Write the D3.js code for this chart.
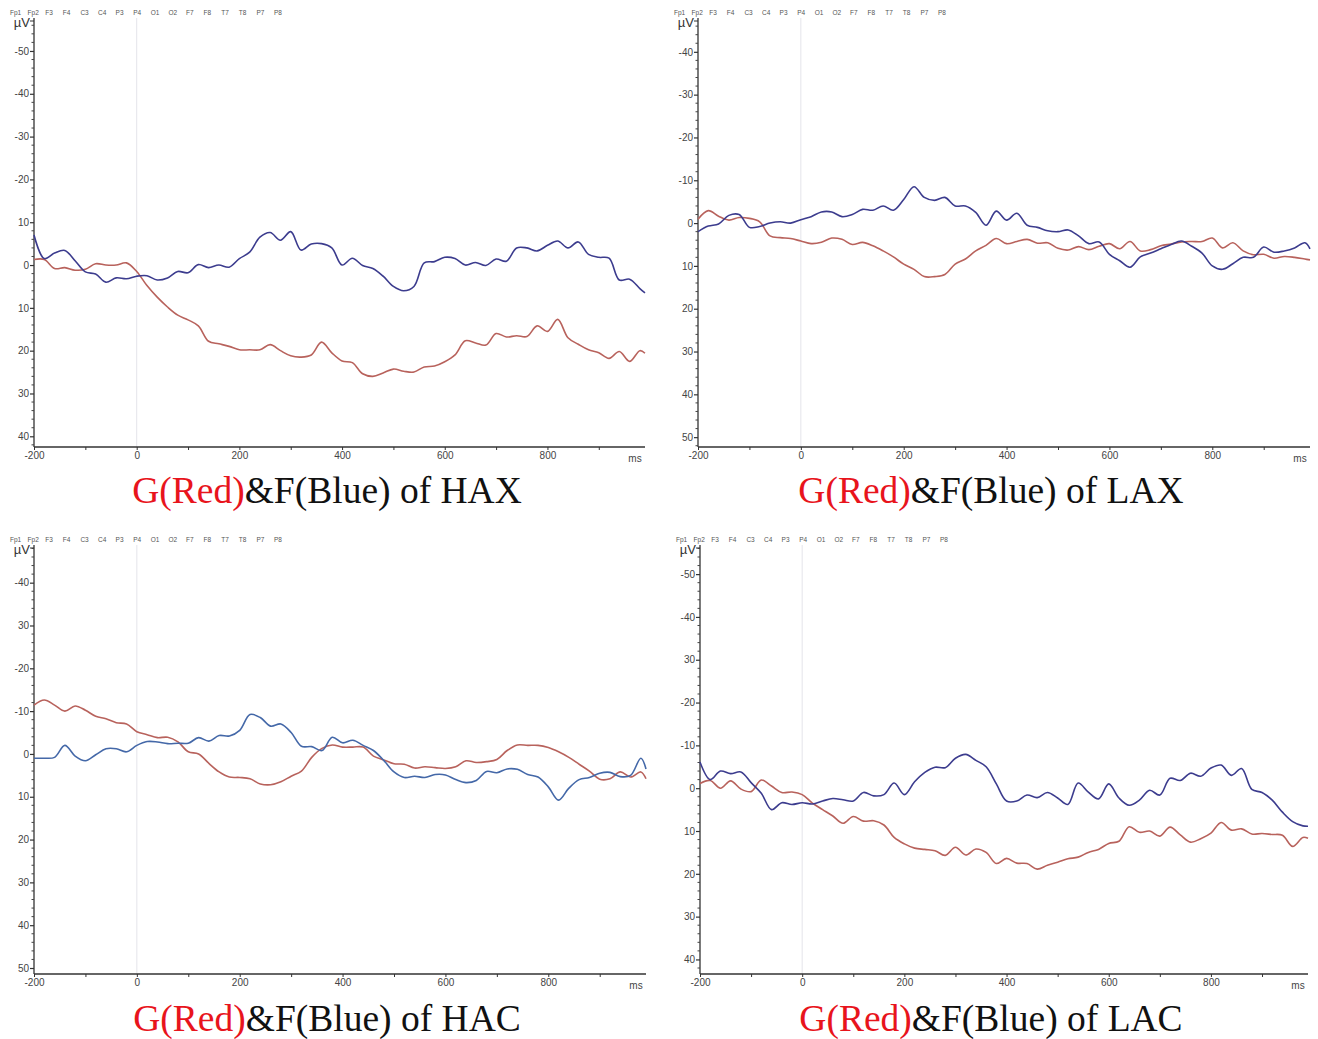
<!DOCTYPE html>
<html>
<head>
<meta charset="utf-8">
<script src="https://cdn.jsdelivr.net/npm/d3@7"></script>
<style>
  body { margin: 0; background: #fff; }
  svg { display: block; }
</style>
</head>
<body>
<div id="chart"></div>
<script>
// sample times (ms)
const times = [-200, -180, -160, -140, -120, -100, -80, -60, -40, -20, 0, 20, 40, 60, 80, 100, 120, 140, 160, 180,
  200, 220, 240, 260, 280, 300, 320, 340, 360, 380, 400, 420, 440, 460, 480, 500, 520, 540, 560, 580,
  600, 620, 640, 660, 680, 700, 720, 740, 760, 780, 800, 820, 840, 860, 880, 900, 920, 940, 960, 980, 990];

const channels = ["Fp1", "Fp2", "F3", "F4", "C3", "C4", "P3", "P4", "O1", "O2", "F7", "F8", "T7", "T8", "P7", "P8"];
const xTickLabels = [-200, 0, 200, 400, 600, 800];

// HAX
const haxRed = [-1.3, -1.3, 0.8, 0.6, 1.2, 1.0, -0.3, 0, 0, -0.5, 1.5, 4.8, 7.5, 9.8, 11.7, 12.8, 14.2, 17.8, 18.4, 19.0,
  19.8, 19.8, 19.8, 18.6, 20.0, 21.2, 21.5, 21.0, 18.0, 20.5, 22.4, 22.8, 25.4, 26.0, 25.2, 24.3, 24.8, 25.0, 23.8, 23.6,
  22.6, 21.0, 17.7, 18.2, 18.7, 16.0, 16.8, 16.5, 16.7, 14.2, 15.5, 12.7, 17.0, 18.5, 19.8, 20.5, 21.8, 20.2, 22.5, 20.0, 20.6];
const haxBlue = [-7.0, -1.5, -2.8, -3.4, -1.0, 1.6, 2.1, 4.0, 3.0, 3.2, 2.6, 2.5, 3.5, 3.0, 1.5, 1.8, -0.1, 0.6, 0, 0.5,
  -1.5, -3.0, -6.5, -7.6, -5.8, -7.8, -3.5, -4.9, -5.0, -4.0, 0, -1.6, 0.1, 0.8, 2.6, 5.0, 6.0, 5.0, -0.5, -0.8,
  -1.8, -1.5, 0, -0.6, 0.1, -1.4, -0.9, -4.0, -4.0, -3.3, -4.6, -5.6, -4.0, -5.4, -2.5, -1.8, -1.6, 3.5, 3.3, 5.5, 6.5];

// LAX
const laxRed = [-0.9, -2.9, -1.6, -0.7, -1.3, -1.1, -0.3, 3.0, 3.4, 3.6, 4.2, 4.8, 4.5, 3.5, 3.8, 5.0, 4.5, 5.3, 6.5, 7.9,
  9.6, 10.8, 12.5, 12.5, 12.0, 9.6, 8.4, 6.5, 5.2, 3.6, 4.8, 4.3, 3.8, 4.7, 4.6, 5.9, 6.3, 5.5, 6.2, 5.4,
  4.8, 6.0, 4.3, 6.5, 6.2, 5.3, 4.9, 4.4, 4.3, 4.3, 3.5, 5.8, 4.6, 6.5, 7.4, 7.3, 8.2, 7.8, 8.0, 8.4, 8.6];
const laxBlue = [2.0, 0.7, 0.2, -1.8, -2.0, 1.0, 0.8, 0, -0.3, 0, -0.8, -1.5, -2.6, -2.6, -1.5, -2.0, -3.2, -3.0, -4.0, -3.0,
  -5.5, -8.5, -6.0, -5.3, -6.0, -4.0, -4.0, -2.5, 0.5, -2.8, -0.7, -2.3, 0.5, 1.0, 1.8, 2.0, 1.6, 3.0, 4.8, 4.4,
  7.3, 8.8, 10.3, 7.9, 7.0, 6.0, 5.0, 4.2, 5.4, 7.0, 10.0, 10.8, 9.5, 8.0, 8.0, 5.6, 6.8, 6.5, 5.8, 4.6, 6.0];

// HAC
const hacRed = [-11.4, -12.6, -11.4, -10.0, -11.2, -10.2, -8.8, -8.2, -7.3, -7.0, -5.2, -4.5, -3.8, -3.9, -2.8, -0.5, 0, 2.2, 4.2, 5.4,
  5.5, 5.8, 7.0, 7.2, 6.5, 5.2, 4.0, 0.8, -1.3, -2.1, -1.6, -1.6, -1.6, 0.5, 1.4, 2.3, 2.4, 3.3, 3.0, 3.2,
  3.4, 3.0, 1.6, 2.0, 1.8, 1.3, -0.8, -2.1, -2.0, -2.0, -1.5, -0.5, 0.8, 2.4, 4.0, 5.9, 5.8, 4.2, 5.4, 4.2, 5.8];
const hacBlue = [1.0, 1.0, 0.8, -2.0, 0.5, 1.6, 0.2, -1.2, -1.2, -0.5, -2.0, -2.9, -2.8, -2.4, -2.5, -2.5, -3.8, -3.0, -4.3, -4.2,
  -5.5, -9.2, -8.5, -6.5, -7.0, -5.0, -1.8, -1.7, -0.8, -3.9, -2.6, -3.2, -2.0, -0.8, 1.5, 4.2, 5.5, 5.2, 5.5, 4.8,
  4.9, 6.0, 6.7, 6.2, 4.1, 4.4, 3.5, 3.6, 4.8, 5.4, 7.7, 10.8, 8.0, 6.0, 5.5, 4.5, 4.3, 5.3, 5.0, 1.0, 3.5];

// LAC
const lacRed = [-1.1, -1.8, 0.0, -1.7, 0.2, 0.8, -1.9, -0.5, 1.0, 0.9, 1.5, 3.5, 5.0, 6.5, 8.2, 6.6, 7.7, 7.6, 8.6, 11.5,
  13.0, 14.0, 14.3, 14.6, 15.7, 13.8, 15.6, 14.2, 15.0, 17.6, 16.4, 17.5, 17.6, 18.9, 18.0, 17.3, 16.5, 16.1, 15.0, 14.3,
  12.9, 12.4, 9.0, 10.3, 10.0, 11.2, 9.1, 10.9, 12.6, 11.8, 10.5, 8.0, 9.8, 9.5, 10.7, 10.6, 10.8, 11.0, 13.6, 11.5, 11.7];
const lacBlue = [-6.1, -2.0, -4.0, -3.4, -3.8, -1.3, 1.2, 5.0, 3.4, 3.8, 3.4, 3.7, 3.0, 2.4, 2.7, 3.0, 1.0, 1.8, 1.5, -1.2,
  1.5, -1.5, -3.7, -4.9, -4.8, -7.0, -7.9, -6.5, -5.0, -1.0, 3.0, 3.0, 1.6, 2.2, 1.0, 2.3, 3.8, -1.2, 0.9, 2.5,
  -1.0, 2.3, 4.0, 2.8, 0.5, 1.6, -2.3, -1.8, -3.5, -2.8, -4.7, -5.4, -3.0, -4.6, 0.3, 1.0, 2.8, 5.6, 7.8, 8.8, 8.9];

const yTicks1 = [-50, -40, -30, -20, -10, 0, 10, 20, 30, 40];
const yLabels1 = ["-50", "-40", "-30", "-20", "10", "0", "10", "20", "30", "40"];
const yTicks2 = [-40, -30, -20, -10, 0, 10, 20, 30, 40, 50];
const yLabels2 = ["-40", "-30", "-20", "-10", "0", "10", "20", "30", "40", "50"];
const yTicks3 = [-40, -30, -20, -10, 0, 10, 20, 30, 40, 50];
const yLabels3 = ["-40", "30", "-20", "-10", "0", "10", "20", "30", "40", "50"];
const yTicks4 = [-50, -40, -30, -20, -10, 0, 10, 20, 30, 40];
const yLabels4 = ["-50", "-40", "30", "-20", "-10", "0", "10", "20", "30", "40"];

const captions = ["HAX", "LAX", "HAC", "LAC"];

const W = 1318, H = 1039;
const redColor = "#b8625c";
const blueColor = "#3c3c8e";

const panels = [
  {name: captions[0], red: haxRed, blue: haxBlue, ticks: yTicks1, labels: yLabels1,
    left: 34, right: 645, top: 18, bottom: 447, yDom: [-57.7, 42.5], capX: 327, capY: 503, blue2: blueColor},
  {name: captions[1], red: laxRed, blue: laxBlue, ticks: yTicks2, labels: yLabels2,
    left: 698, right: 1310, top: 18, bottom: 447, yDom: [-47.9, 52.3], capX: 991, capY: 503, blue2: blueColor},
  {name: captions[2], red: hacRed, blue: hacBlue, ticks: yTicks3, labels: yLabels3,
    left: 34, right: 646, top: 545, bottom: 974, yDom: [-48.8, 51.4], capX: 327, capY: 1031, blue2: "#4468a8"},
  {name: captions[3], red: lacRed, blue: lacBlue, ticks: yTicks4, labels: yLabels4,
    left: 700, right: 1308, top: 545, bottom: 974, yDom: [-56.8, 43.4], capX: 991, capY: 1031, blue2: blueColor},
];

const svg = d3.select("#chart").append("svg")
  .attr("width", W)
  .attr("height", H)
  .style("font-family", "'Liberation Sans', Arial, sans-serif");

panels.forEach(p => {
  const x = d3.scaleLinear().domain([-200, 990]).range([p.left, p.right]);
  const y = d3.scaleLinear().domain(p.yDom).range([p.top, p.bottom]);
  const g = svg.append("g");

  // channel header
  g.append("g")
    .selectAll("text")
    .data(channels)
    .join("text")
    .attr("x", (d, i) => p.left - 24 + i * 17.6)
    .attr("y", p.top - 3)
    .attr("font-size", 6.5)
    .attr("fill", "#555")
    .text(d => d);

  // zero-time guide
  g.append("line")
    .attr("x1", x(0)).attr("x2", x(0))
    .attr("y1", p.top).attr("y2", p.bottom)
    .attr("stroke", "#e4e4ea")
    .attr("stroke-width", 1);

  // y axis
  const yAxis = d3.axisLeft(y)
    .tickValues(p.ticks)
    .tickSize(4)
    .tickFormat((d, i) => p.labels[i]);
  g.append("g")
    .attr("transform", `translate(${p.left},0)`)
    .call(yAxis)
    .call(a => a.select(".domain").attr("d", `M0,${p.top}V${p.bottom}`).attr("stroke", "#333").attr("stroke-width", 1.3))
    .call(a => a.selectAll(".tick line").attr("stroke", "#333").attr("stroke-width", 1.2))
    .call(a => a.selectAll(".tick text").attr("font-size", 10).attr("fill", "#444").attr("x", -5));

  // y minor ticks
  const minor = d3.range(Math.ceil(p.yDom[0] / 2) * 2, p.yDom[1], 2).filter(v => v % 10 !== 0);
  g.append("g")
    .selectAll("line")
    .data(minor)
    .join("line")
    .attr("x1", p.left - 2.5).attr("x2", p.left)
    .attr("y1", d => y(d)).attr("y2", d => y(d))
    .attr("stroke", "#444")
    .attr("stroke-width", 1);

  // top tick + unit
  g.append("line")
    .attr("x1", p.left - 4).attr("x2", p.left)
    .attr("y1", p.top + 3).attr("y2", p.top + 3)
    .attr("stroke", "#333");
  g.append("text")
    .attr("x", p.left - 4)
    .attr("y", p.top + 9)
    .attr("text-anchor", "end")
    .attr("font-size", 13)
    .attr("fill", "#333")
    .text("µV");

  // x axis
  const xAxis = d3.axisBottom(x)
    .tickValues(d3.range(-200, 1000, 100))
    .tickSize(3)
    .tickFormat(d => xTickLabels.includes(d) ? d : "");
  g.append("g")
    .attr("transform", `translate(0,${p.bottom})`)
    .call(xAxis)
    .call(a => a.select(".domain").attr("d", `M${p.left},0H${p.right}`).attr("stroke", "#333").attr("stroke-width", 1.3))
    .call(a => a.selectAll(".tick line").attr("stroke", "#333"))
    .call(a => a.selectAll(".tick text").attr("font-size", 10).attr("fill", "#444").attr("y", 5));
  g.append("text")
    .attr("x", p.right - 10)
    .attr("y", p.bottom + 15)
    .attr("text-anchor", "middle")
    .attr("font-size", 10)
    .attr("fill", "#444")
    .text("ms");

  // waves
  const line = d3.line()
    .x((d, i) => x(times[i]))
    .y(d => y(d))
    .curve(d3.curveCatmullRom.alpha(0.5));
  g.append("path")
    .attr("d", line(p.red))
    .attr("fill", "none")
    .attr("stroke", redColor)
    .attr("stroke-width", 1.6);
  g.append("path")
    .attr("d", line(p.blue))
    .attr("fill", "none")
    .attr("stroke", p.blue2)
    .attr("stroke-width", 1.6);

  // caption
  const cap = g.append("text")
    .attr("x", p.capX)
    .attr("y", p.capY)
    .attr("text-anchor", "middle")
    .attr("font-family", "'Liberation Serif', 'Times New Roman', serif")
    .attr("font-size", 37.5)
    .attr("fill", "#111");
  cap.append("tspan").attr("fill", "#e8141c").text("G(Red)");
  cap.append("tspan").text("&F(Blue) of " + p.name);
});
</script>
</body>
</html>
